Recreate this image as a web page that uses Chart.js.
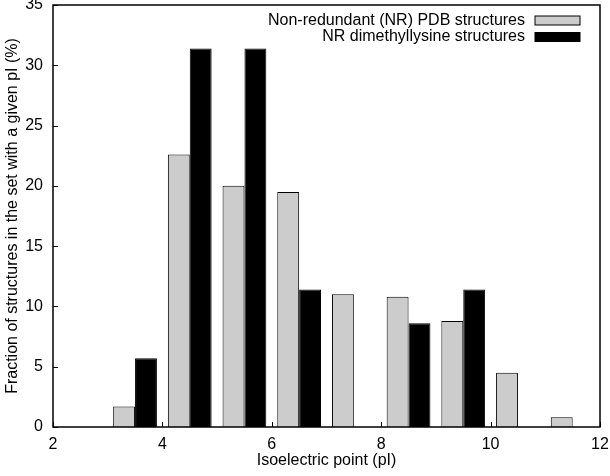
<!DOCTYPE html>
<html>
<head>
<meta charset="utf-8">
<script src="https://cdn.jsdelivr.net/npm/chart.js@4"></script>
<style>
  html, body { margin: 0; padding: 0; background: #fff; }
  #wrap { width: 610px; height: 476px; }
</style>
</head>
<body>
<div id="wrap"><canvas id="grafico_pi"></canvas></div>
<script>
// bin centres (pI) and percentages
const centros_pi = [3.5, 4.5, 5.5, 6.5, 7.5, 8.5, 9.5, 10.5, 11.5];
const nr_pdb = [1.7, 22.6, 20.0, 19.5, 11.0, 10.8, 8.8, 4.5, 0.8];
const nr_dimetil = [5.7, 31.4, 31.4, 11.4, null, 8.6, 11.4, null, null];
const ticks_x = [2, 4, 6, 8, 10, 12];
const ticks_y = [0, 5, 10, 15, 20, 25, 30, 35];
const rotulos = ['Non-redundant (NR) PDB structures', 'NR dimethyllysine structures'];

const fonte = 'Liberation Sans, Arial, sans-serif';
const tam = 16;

// frame, inward ticks and legend box inside the plot
const moldura = {
    id: 'moldura',
    afterDraw(chart) {
        const ctx = chart.ctx;
        const a = chart.chartArea;
        const sx = chart.scales.x, sy = chart.scales.y;
        ctx.save();
        ctx.strokeStyle = '#000';
        ctx.lineWidth = 1.5;
        ctx.strokeRect(a.left, a.top, a.right - a.left, a.bottom - a.top);
        ctx.lineWidth = 1;
        ctx.beginPath();
        ticks_x.forEach(function(v) {
            const px = Math.round(sx.getPixelForValue(v)) + 0.5;
            ctx.moveTo(px, a.bottom);
            ctx.lineTo(px, a.bottom - 5);
        });
        ticks_y.forEach(function(v) {
            const py = Math.round(sy.getPixelForValue(v)) + 0.5;
            ctx.moveTo(a.left, py);
            ctx.lineTo(a.left + 5, py);
        });
        ctx.stroke();

        // legend
        ctx.font = tam + 'px ' + fonte;
        ctx.textAlign = 'right';
        ctx.textBaseline = 'middle';
        chart.data.datasets.forEach(function(ds, i) {
            const y = a.top + 15.5 + i * 16.5;
            ctx.fillStyle = '#000';
            ctx.fillText(ds.label, a.right - 75, y);
            ctx.fillStyle = ds.backgroundColor;
            ctx.fillRect(a.right - 65, y - 4.5, 45, 9);
            ctx.strokeStyle = '#000';
            ctx.lineWidth = 1;
            ctx.strokeRect(a.right - 65, y - 4.5, 45, 9);
        });
        ctx.restore();
    }
};

const dados_grafico = {
    datasets: [{
        label: rotulos[0],
        data: centros_pi.map(function(x, i) { return {x: x, y: nr_pdb[i]}; }),
        backgroundColor: '#cccccc',
        borderColor: '#000',
        borderWidth: 1,
        categoryPercentage: 0.8,
        barPercentage: 1.0
    }, {
        label: rotulos[1],
        data: centros_pi.map(function(x, i) { return {x: x, y: nr_dimetil[i]}; }),
        backgroundColor: '#000000',
        borderColor: '#000',
        borderWidth: 1,
        categoryPercentage: 0.8,
        barPercentage: 1.0
    }]
};

const opcoes_grafico = {
    responsive: true,
    maintainAspectRatio: false,
    animation: false,
    layout: { padding: { left: 0, right: 10, top: 5, bottom: 0 } },
    plugins: {
        legend: { display: false },
        tooltip: { enabled: false }
    },
    scales: {
        x: {
            type: 'linear',
            offset: false,
            min: 2,
            max: 12,
            afterBuildTicks: function(s) { s.ticks = ticks_x.map(function(v) { return {value: v}; }); },
            grid: { display: false, drawTicks: false, offset: false },
            border: { display: false },
            ticks: { color: '#000', font: { family: fonte, size: tam }, padding: 8, maxRotation: 0 },
            title: { display: true, text: 'Isoelectric point (pI)', color: '#000', font: { family: fonte, size: tam }, padding: { top: 0, bottom: 6 } },
            afterFit: function(s) { s.height = 49; s.paddingLeft = 0; s.paddingRight = 0; }
        },
        y: {
            min: 0,
            max: 35,
            afterBuildTicks: function(s) { s.ticks = ticks_y.map(function(v) { return {value: v}; }); },
            grid: { display: false, drawTicks: false },
            border: { display: false },
            ticks: { color: '#000', font: { family: fonte, size: tam }, padding: 10 },
            title: { display: true, text: 'Fraction of structures in the set with a given pI (%)', color: '#000', font: { family: fonte, size: tam }, padding: { top: 3, bottom: 0 } },
            afterFit: function(s) { s.width = 53; s.paddingTop = 0; s.paddingBottom = 0; }
        }
    }
};

new Chart(document.querySelector('#grafico_pi'), {
    type: 'bar',
    data: dados_grafico,
    options: opcoes_grafico,
    plugins: [moldura]
});
</script>
</body>
</html>
